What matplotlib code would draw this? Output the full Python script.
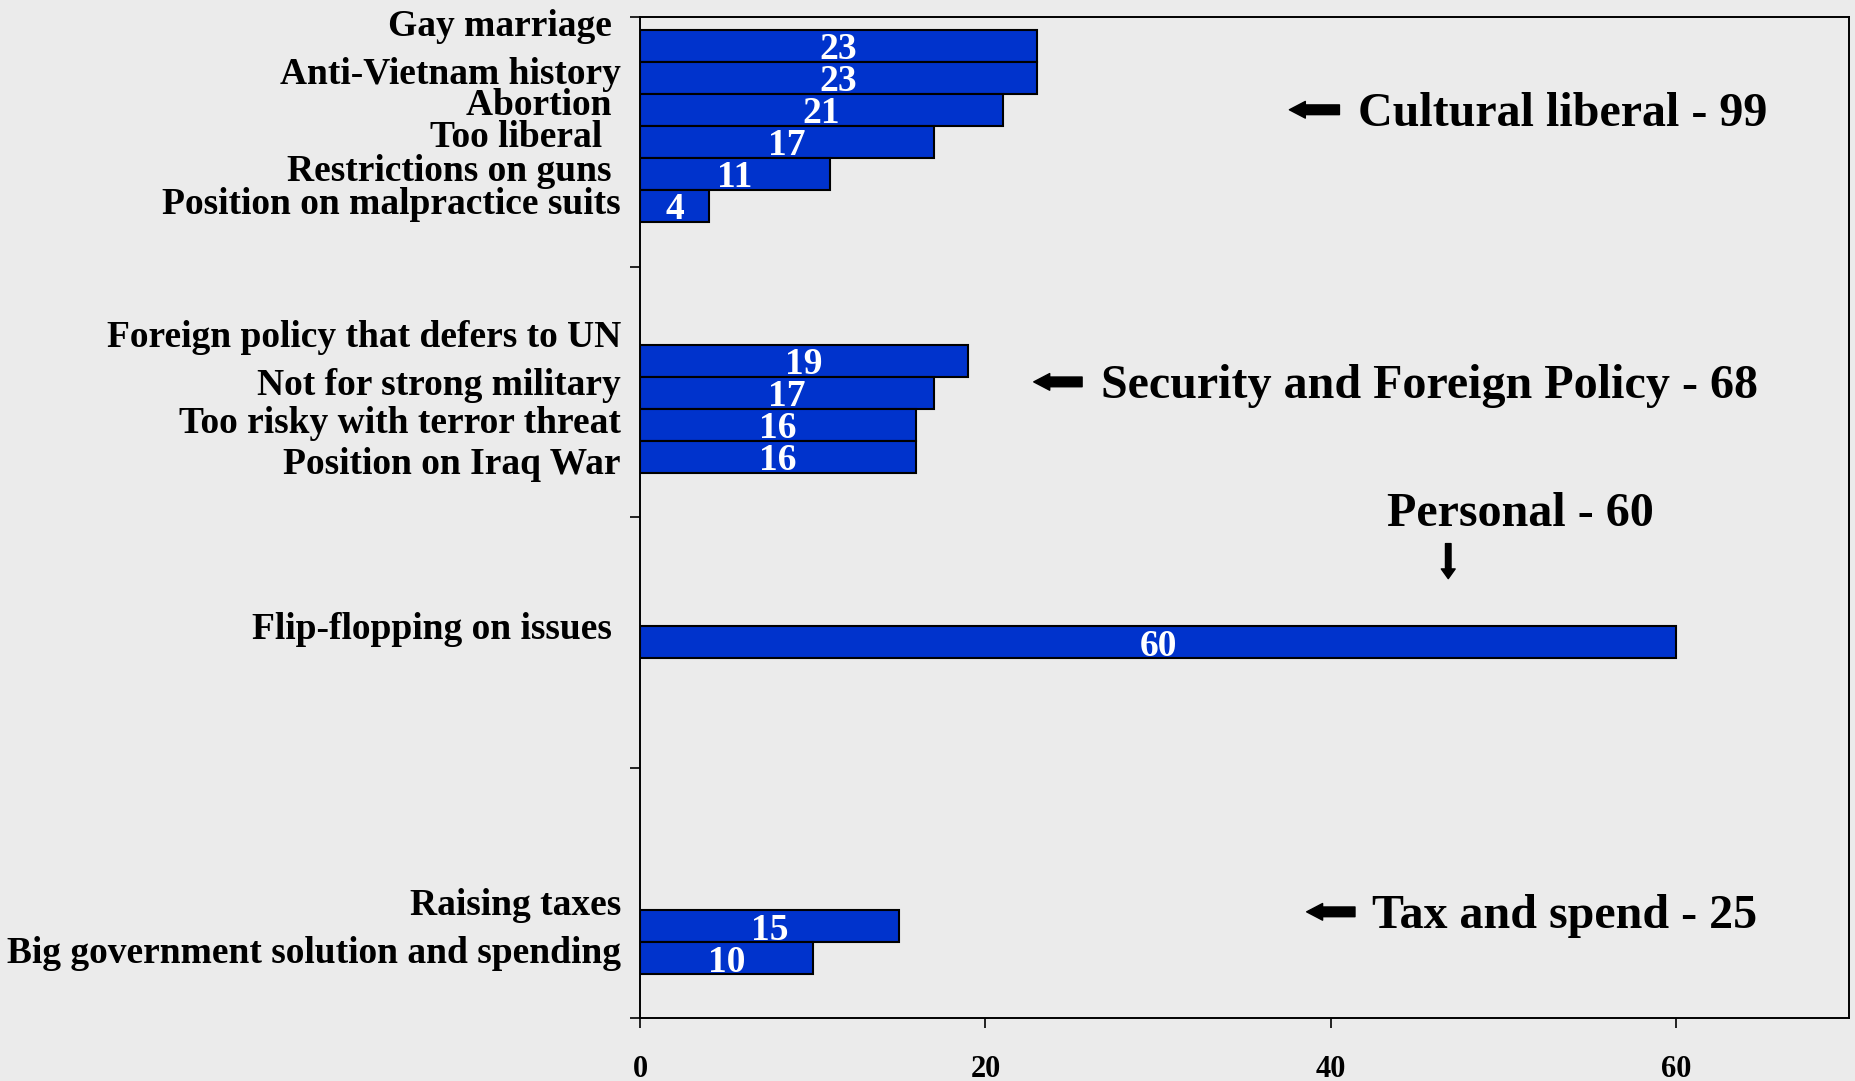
import matplotlib
matplotlib.use('Agg')
import matplotlib.pyplot as plt

issues = ["Gay marriage ", "Anti-Vietnam history", "Abortion ", "Too liberal  ",
          "Restrictions on guns ", "Position on malpractice suits",
          "Foreign policy that defers to UN", "Not for strong military",
          "Too risky with terror threat", "Position on Iraq War",
          "Flip-flopping on issues ",
          "Raising taxes", "Big government solution and spending"]
werte = [23, 23, 21, 17, 11, 4, 19, 17, 16, 16, 60, 15, 10]
gruppe = [0, 0, 0, 0, 0, 0, 1, 1, 1, 1, 2, 3, 3]
gruppen = ["Cultural liberal", "Security and Foreign Policy", "Personal", "Tax and spend"]
summen = [99, 68, 60, 25]
xticks = [0, 20, 40, 60]

# layout (not data)
start = [0.052, 1.310, 2.435, 3.570]
bh = 0.128
# vertical nudge of the left labels against their bar
schub = [-0.078, -0.014, -0.018, -0.018, -0.010, -0.006,
         -0.094, -0.030, -0.006, 0.030,
         -0.050,
         -0.082, -0.018]
hg = '#ebebeb'
blau = '#0033cc'

plt.rcParams['font.family'] = ['Liberation Serif', 'DejaVu Serif']
plt.rcParams['font.weight'] = 'bold'

fig = plt.figure(figsize=(18.56, 10.81), dpi=100, facecolor=hg)
ax = fig.add_axes([0.3448, 0.0583, 0.6514, 0.9263], facecolor=hg)

ypos = []
zaehler = [0, 0, 0, 0]
for g in gruppe:
    ypos.append(start[g] + (zaehler[g] + 0.5) * bh)
    zaehler[g] += 1

ax.barh(ypos, werte, height=bh, color=blau, edgecolor='black', linewidth=1.5)

for y, v, lab, d in zip(ypos, werte, issues, schub):
    ax.text(v / 2, y + 0.016, str(v), color='white', fontsize=27, fontweight='bold',
            ha='center', va='center')
    ax.text(-1.1, y + d, lab, fontsize=27, fontweight='bold',
            ha='right', va='center', clip_on=False)

ax.set_xlim(0, 70)
ax.set_ylim(4, 0)
ax.set_yticks([0, 1, 2, 3, 4])
ax.set_yticklabels([])
ax.set_xticks(xticks)
ax.set_xticklabels([str(t) for t in xticks], fontsize=22, fontweight='bold')
ax.tick_params(axis='both', direction='out', length=7, width=1.2, color='black')
ax.tick_params(axis='x', pad=20)
for s in ax.spines.values():
    s.set_linewidth(1.4)
    s.set_color('black')

pfeil = dict(arrowstyle='simple,head_length=1.15,head_width=1.2,tail_width=0.7',
             color='black', shrinkA=0, shrinkB=0)
pfeil_ab = dict(arrowstyle='simple,head_length=0.7,head_width=1.0,tail_width=0.4',
                color='black', shrinkA=0, shrinkB=0)
gs = 34.6
# Cultural liberal
ax.annotate("", xy=(37.6, 0.372), xytext=(40.5, 0.372), arrowprops=pfeil)
ax.text(41.6, 0.388, f"{gruppen[0]} - {summen[0]}", fontsize=gs, fontweight='bold',
        ha='left', va='center')
# Security
ax.annotate("", xy=(22.8, 1.459), xytext=(25.6, 1.459), arrowprops=pfeil)
ax.text(26.7, 1.475, f"{gruppen[1]} - {summen[1]}", fontsize=gs, fontweight='bold',
        ha='left', va='center')
# Personal
ax.text(51.0, 1.986, f"{gruppen[2]} - {summen[2]}", fontsize=gs, fontweight='bold',
        ha='center', va='center')
ax.annotate("", xy=(46.8, 2.245), xytext=(46.8, 2.105), arrowprops=pfeil_ab)
# Tax
ax.annotate("", xy=(38.6, 3.576), xytext=(41.4, 3.576), arrowprops=pfeil)
ax.text(42.4, 3.592, f"{gruppen[3]} - {summen[3]}", fontsize=gs, fontweight='bold',
        ha='left', va='center')

fig.savefig('out.png', dpi=100, facecolor=hg)
